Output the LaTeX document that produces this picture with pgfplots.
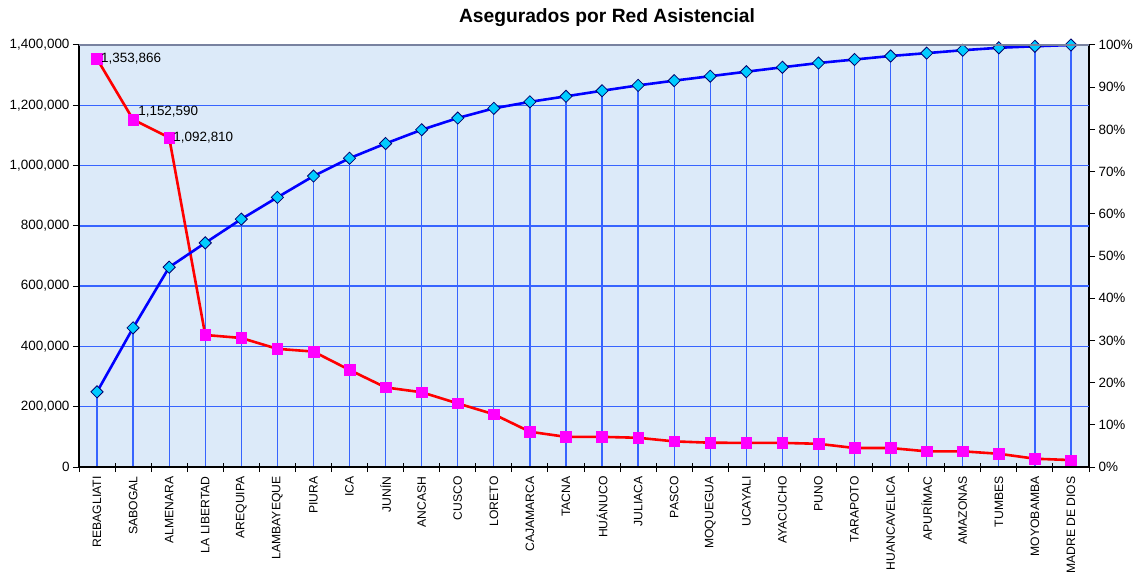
\documentclass[border=0pt]{standalone}
\usepackage{pgfplots}
\pgfplotsset{compat=1.18}
\usepackage{pgfplotstable}
\usepackage{fontspec}
\setmainfont{Liberation Sans}
\definecolor{bgblue}{RGB}{220,234,249}
\definecolor{gridblue}{RGB}{55,100,255}
\definecolor{pinkm}{RGB}{255,0,255}
\definecolor{cyanm}{RGB}{0,204,255}
\definecolor{navym}{RGB}{0,0,110}
\definecolor{topgray}{RGB}{120,130,160}

\pgfplotstableread{
x y
0 1353866
1 1152590
2 1092810
3 438000
4 428000
5 392000
6 383000
7 322000
8 264000
9 248000
10 211000
11 175000
12 117000
13 100000
14 100000
15 97000
16 85000
17 80600
18 80000
19 80000
20 77000
21 63000
22 63000
23 52000
24 52000
25 44000
26 27500
27 23000
}\redtab

\pgfplotstableread{
x p
0 17.81
1 32.97
2 47.35
3 53.11
4 58.74
5 63.90
6 68.94
7 73.17
8 76.65
9 79.91
10 82.69
11 84.99
12 86.53
13 87.84
14 89.16
15 90.43
16 91.55
17 92.61
18 93.67
19 94.72
20 95.73
21 96.56
22 97.39
23 98.07
24 98.76
25 99.34
26 99.70
27 100
}\cumtab

\pgfplotsset{
  common/.style={
    scale only axis, width=1010bp, height=422bp,
    xmin=-0.5, xmax=27.5,
    at={(0,0)}, anchor=south west,
    tick style={black, line width=1bp},
    major tick length=6bp,
    tick align=outside,
    axis line style={black, line width=1.3bp},
    /pgf/number format/assume math mode=true,
    tick label style={font=\fontsize{13.5}{15}\selectfont},
  }
}

\begin{document}
\begin{tikzpicture}
% secondary axis: background, drop lines, right axis
\begin{axis}[common,
  ymin=0, ymax=100,
  axis y line*=right, axis x line=none,
  ytick={0,10,...,100},
  yticklabel={\pgfmathprintnumber{\tick}\%},
  axis background/.style={fill=bgblue},
]
\addplot[ycomb, draw=gridblue, line width=1.3bp, no marks] table[x=x,y=p] {\cumtab};
\end{axis}

% primary axis: grid, red series, left axis, categories
\begin{axis}[common, name=ax,
  ymin=0, ymax=1400000,
  axis y line*=left, axis x line*=bottom,
  ytick={0,200000,400000,600000,800000,1000000,1200000,1400000},
  scaled y ticks=false,
  yticklabel style={/pgf/number format/.cd, fixed, 1000 sep={,}},
  ymajorgrids, grid style={gridblue, line width=1.3bp},
  xtick={0,...,27},
  xticklabels={REBAGLIATI,SABOGAL,ALMENARA,LA LIBERTAD,AREQUIPA,LAMBAYEQUE,PIURA,ICA,JUNÍN,ANCASH,CUSCO,LORETO,CAJAMARCA,TACNA,HUÁNUCO,JULIACA,PASCO,MOQUEGUA,UCAYALI,AYACUCHO,PUNO,TARAPOTO,HUANCAVELICA,APURÍMAC,AMAZONAS,TUMBES,MOYOBAMBA,MADRE DE DIOS},
  x tick label style={rotate=90, anchor=east, font=\fontsize{12.2}{14}\selectfont},
  major x tick style={draw=none},
  minor xtick={-0.5,0.5,...,27.5},
  minor tick length=9bp,
  minor x tick style={yshift=4bp, black, line width=1bp},
]
\addplot[red, line width=2.6bp, mark=square*, mark size=5.3bp,
  mark options={fill=pinkm, draw=pinkm, line width=0.5bp}] table[x=x,y=y] {\redtab};
\addplot[draw=none, no marks, nodes near coords, point meta=explicit symbolic,
  every node near coord/.style={anchor=west, xshift=3bp, yshift=0bp, inner sep=1bp,
    font=\fontsize{13.5}{15}\selectfont}]
  coordinates {(0,1353866) [1,353,866] (2,1092810) [1,092,810]};
\addplot[draw=none, no marks, nodes near coords, point meta=explicit symbolic,
  every node near coord/.style={anchor=west, xshift=4bp, yshift=8bp, inner sep=1bp,
    font=\fontsize{13.5}{15}\selectfont}]
  coordinates {(1,1152590) [1,152,590]};
\end{axis}

% cumulative line on top
\begin{axis}[common, ymin=0, ymax=100, hide axis]
\addplot[blue, line width=2.6bp, mark=square*, mark size=4.3bp,
  mark options={fill=cyanm, draw=navym, line width=0.8bp, rotate=45}] table[x=x,y=p] {\cumtab};
\end{axis}

\draw[topgray, line width=1.3bp] (ax.north west) -- (ax.north east);
\node[font=\bfseries\fontsize{19.3}{22}\selectfont] at ([xshift=23bp, yshift=27bp]ax.north) {Asegurados por Red Asistencial};

\pgfresetboundingbox
\path ([xshift=-79bp,yshift=-108bp]ax.south west) rectangle ([xshift=48bp,yshift=45bp]ax.north east);
\end{tikzpicture}
\end{document}
